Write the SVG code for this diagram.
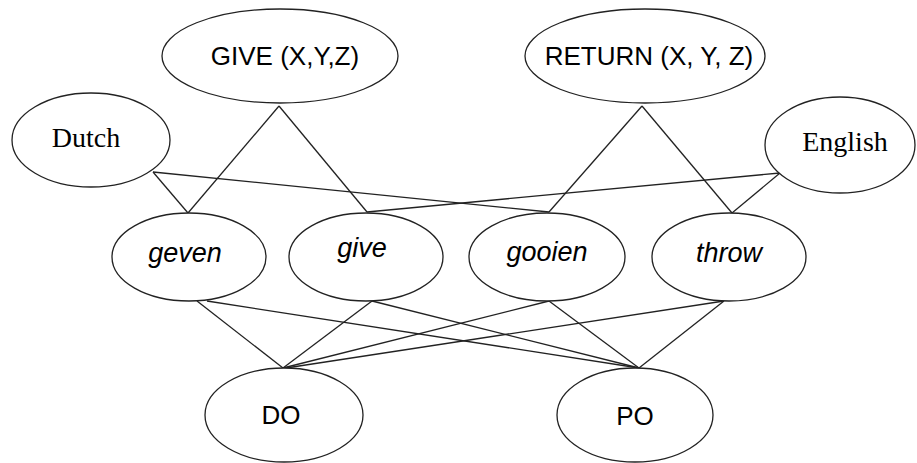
<svg xmlns="http://www.w3.org/2000/svg" width="917" height="463" viewBox="0 0 917 463">
<style>
.n ellipse{fill:#fff;stroke:#222;stroke-width:1.3}
.e line{stroke:#222;stroke-width:1.3}
.s{font-family:"Liberation Sans",Arial,sans-serif;font-size:26px;fill:#000;text-anchor:middle}
.i{font-family:"Liberation Sans",Arial,sans-serif;font-size:27px;font-style:italic;fill:#000;text-anchor:middle}
.t{font-family:"Liberation Serif","Times New Roman",serif;font-size:28px;fill:#000;text-anchor:middle}
</style>
<rect width="917" height="463" fill="#fff"/>
<g id="connectors" class="e">
<line x1="279" y1="106" x2="188" y2="213"/>
<line x1="279" y1="106" x2="367" y2="212"/>
<line x1="153" y1="172" x2="188" y2="213"/>
<line x1="153" y1="172" x2="549" y2="212"/>
<line x1="780" y1="173" x2="367" y2="212"/>
<line x1="780" y1="173" x2="732" y2="213"/>
<line x1="642" y1="106" x2="549" y2="212"/>
<line x1="642" y1="106" x2="732" y2="213"/>
<line x1="197" y1="301" x2="283" y2="368"/>
<line x1="207" y1="301" x2="639" y2="368"/>
<line x1="372" y1="301" x2="283" y2="368"/>
<line x1="372" y1="301" x2="639" y2="368"/>
<line x1="549" y1="301" x2="283" y2="368"/>
<line x1="549" y1="301" x2="639" y2="368"/>
<line x1="724" y1="301" x2="286" y2="368"/>
<line x1="724" y1="301" x2="639" y2="368"/>
</g>
<g id="give-xyz" class="n"><ellipse cx="280" cy="56" rx="118" ry="47"/><text class="s" x="285" y="65">GIVE (X,Y,Z)</text></g>
<g id="return-xyz" class="n"><ellipse cx="645" cy="56" rx="120" ry="47"/><text class="s" x="649" y="65">RETURN (X, Y, Z)</text></g>
<g id="dutch" class="n"><ellipse cx="91" cy="140" rx="79" ry="47"/><text class="t" x="86" y="147">Dutch</text></g>
<g id="english" class="n"><ellipse cx="840" cy="145" rx="75" ry="48"/><text class="t" x="845" y="151">English</text></g>
<g id="geven" class="n"><ellipse cx="189" cy="257" rx="77" ry="44"/><text class="i" x="185" y="262">geven</text></g>
<g id="give" class="n"><ellipse cx="366" cy="257" rx="77" ry="44"/><text class="i" x="362" y="257">give</text></g>
<g id="gooien" class="n"><ellipse cx="547" cy="257" rx="78" ry="44"/><text class="i" x="547" y="261">gooien</text></g>
<g id="throw" class="n"><ellipse cx="729" cy="257" rx="77" ry="44"/><text class="i" x="729" y="262">throw</text></g>
<g id="do" class="n"><ellipse cx="284" cy="415" rx="79" ry="47"/><text class="s" x="281" y="424">DO</text></g>
<g id="po" class="n"><ellipse cx="635" cy="415" rx="78" ry="47"/><text class="s" x="635" y="425">PO</text></g>
</svg>
